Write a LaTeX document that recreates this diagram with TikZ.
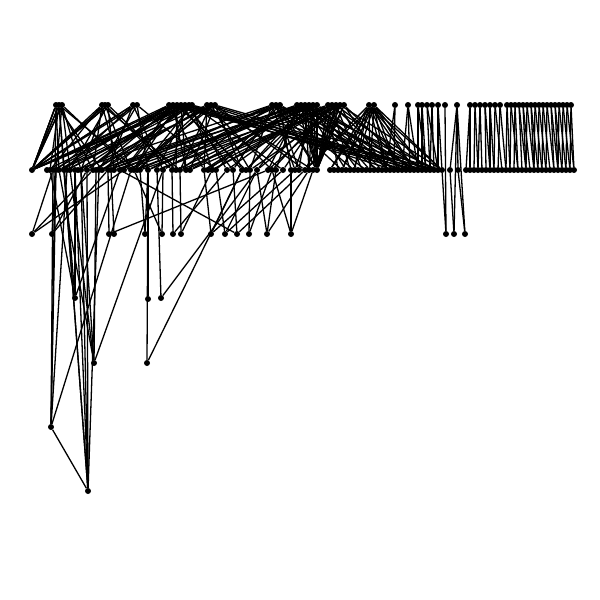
\documentclass[tikz,border=0pt]{standalone}
\begin{document}
\begin{tikzpicture}[x=1pt,y=-1pt,
  dot/.style={circle,fill=black,inner sep=0pt,minimum size=6pt},
  edge/.style={line width=1.3pt}]
\useasboundingbox (0,0) rectangle (600,600);
% top row
\foreach \x [count=\i] in {56,59,62,102,105,108,133,137,169,173,177,181,185,189,192,207,211,215,272,276,280,297,301,305,309,313,317,328,332,336,340,344,369,374,395,408,418,422,427,432,438,445,457,470,475,480,485,490,495,500,507,511,515,519,523,527,531,535,539,543,547,551,555,559,563,567,571}
  \coordinate (tc\i) at (\x,105);
% middle row
\foreach \x [count=\i] in {32,47,50,53,56,59,64,67,70,75,78,81,87,93,96,99,102,108,111,114,120,124,131,134,137,140,148,157,163,172,176,180,186,190,204,208,212,216,227,233,242,246,250,257,268,272,276,283,291,295,299,305,309,313,317}
  \coordinate (mc\i) at (\x,170);
\foreach \k in {0,...,28} {\pgfmathtruncatemacro\i{56+\k}\coordinate (mc\i) at ({330+4*\k},170);}
\coordinate (mc85) at (450,170);
\coordinate (mc86) at (458,170);
\foreach \k in {0,...,27} {\pgfmathtruncatemacro\i{87+\k}\coordinate (mc\i) at ({466+4*\k},170);}
% lower rows
\foreach \x [count=\i] in {32,52,109,114,145,162,173,181,211,225,237,249,267,291,446,454,465}
  \coordinate (bc\i) at (\x,234);
\coordinate (dc1) at (75,298);
\coordinate (dc2) at (148,299);
\coordinate (dc3) at (161,298);
\coordinate (dc4) at (94,363);
\coordinate (dc5) at (147,363);
\coordinate (dc6) at (51,427);
\coordinate (dc7) at (88,491);
% nodes
\foreach \i in {1,...,67} \node[dot] (t\i) at (tc\i) {};
\foreach \i in {1,...,114} \node[dot] (m\i) at (mc\i) {};
\foreach \i in {1,...,17} \node[dot] (b\i) at (bc\i) {};
\foreach \i in {1,...,7} \node[dot] (d\i) at (dc\i) {};
% left crossing edges
\foreach \a in {1,...,32} {
  \foreach \k in {1,...,5} {
    \pgfmathtruncatemacro\b{max(1,min(55,round(\a*1.72)+mod(\a*7+\k*11,51)-25))}
    \draw[edge] (t\a) -- (m\b);
  }
}
% converging edges toward ~400
\foreach \a in {9,...,32} {
  \pgfmathtruncatemacro\b{72+mod(\a*5,13)}
  \draw[edge] (t\a) -- (m\b);
}
\foreach \a in {19,...,32} {
  \pgfmathtruncatemacro\b{58+mod(\a*3,14)}
  \draw[edge] (t\a) -- (m\b);
}
% fans from 372 cluster
\foreach \b in {52,56,59,62,66,70,73,77,80,84} {\draw[edge] (t33) -- (m\b); \draw[edge] (t34) -- (m\b);}
% right edges
\foreach \a/\b in {35/70,35/72,36/76,36/78,36/74,37/78,37/80,38/80,38/79,39/81,39/83,40/82,40/81,41/84,41/83,
  44/87,44/88,45/89,45/90,46/90,46/91,47/92,47/93,48/93,48/94,49/94,49/96,50/95,50/97,
  51/97,51/98,52/98,52/100,53/99,53/100,54/101,54/102,55/102,55/103,56/102,56/104,57/104,57/105,
  58/104,58/106,59/105,59/107,60/106,60/108,61/107,61/109,62/109,62/110,63/110,63/111,64/110,64/112,
  65/111,65/113,66/112,66/114,67/113,67/114,43/85,43/86}
  \draw[edge] (t\a) -- (m\b);
\draw[edge] (t42) -- (b15);
\draw[edge] (t43) -- (b16);
\draw[edge] (t43) -- (b17);
\draw[edge] (b15) -- (m84);
\draw[edge] (b16) -- (m85);
\draw[edge] (b17) -- (m86);
% row 2 to row 3
\foreach \a/\b in {1/4,1/14,1/22,2/5,2/13,2/18,3/18,4/19,3/45,5/27,5/26,6/29,6/24,7/30,7/39,8/32,8/37,
  9/35,9/41,9/48,10/38,10/44,10/50,11/21,11/40,11/52,12/43,12/46,13/44,13/47,13/53,14/49,14/46,14/54}
  \draw[edge] (b\a) -- (m\b);
% deep edges
\foreach \a/\b in {1/10,1/3,1/21,2/27,3/28,3/44,4/6,4/29,4/12,4/15,5/27,5/41,6/4,6/5,6/8,6/23,7/7,7/10,7/12,7/13,7/16}
  \draw[edge] (d\a) -- (m\b);
\draw[edge] (d6) -- (d7);
\draw[edge] (d7) -- (t2);
\draw[edge] (d6) -- (t1);
\draw[edge] (d4) -- (t3);
\draw[edge] (d1) -- (t2);
\end{tikzpicture}
\end{document}
